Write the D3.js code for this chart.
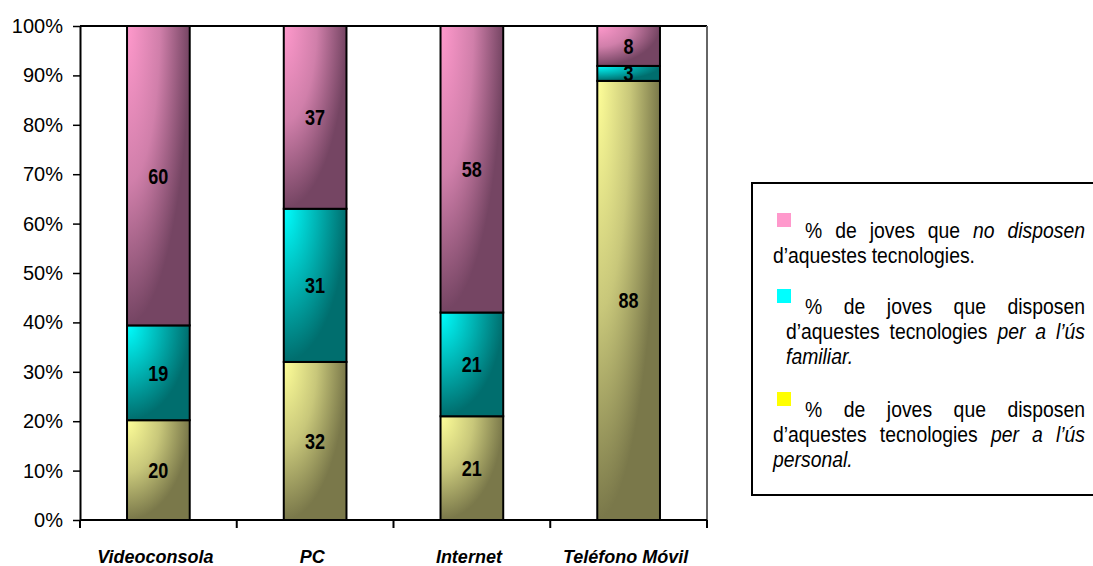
<!DOCTYPE html>
<html>
<head>
<meta charset="utf-8">
<script src="https://cdn.jsdelivr.net/npm/d3@7"></script>
<style>
  body { margin: 0; background: #fff; }
  svg { display: block; }
</style>
</head>
<body>
<script>
// data
var categories = ["Videoconsola", "PC", "Internet", "Teléfono Móvil"];
var personal = [20, 32, 21, 88];
var familiar = [19, 31, 21, 3];
var noDisposen = [60, 37, 58, 8];
var yTicks = [0, 0.1, 0.2, 0.3, 0.4, 0.5, 0.6, 0.7, 0.8, 0.9, 1];

var keys = ["personal", "familiar", "noDisposen"];
var lightColors = ["#FFFF99", "#00FFFF", "#FF99CC"];
var midColors = ["#C8C77A", "#00B4B4", "#D07FAA"];
var darkColors = ["#7A784A", "#006E6E", "#754563"];
var legendSquares = ["#FF99CC", "#00FFFF", "#FFFF00"];

var W = 1093, H = 566;
// no narrow font installed, so the regular one is squeezed
var font = "'Liberation Sans', Arial, sans-serif";
var squeeze = 0.82;

var svg = d3.select("body").append("svg")
  .attr("width", W)
  .attr("height", H);

var x = d3.scaleBand()
  .domain(categories)
  .range([80, 707])
  .paddingInner(0.6)
  .paddingOuter(0.3);

var y = d3.scaleLinear()
  .domain([0, 1])
  .range([520, 26]);

var table = categories.map(function (c, i) {
  return {cat: c, personal: personal[i], familiar: familiar[i], noDisposen: noDisposen[i]};
});

var series = d3.stack().keys(keys).offset(d3.stackOffsetExpand)(table);

// gradients, light in the top-left corner of every segment
var defs = svg.append("defs");
keys.forEach(function (k, i) {
  var grad = defs.append("radialGradient")
    .attr("id", "grad-" + k)
    .attr("cx", 0).attr("cy", 0).attr("fx", 0).attr("fy", 0).attr("r", 1.05);
  grad.append("stop").attr("offset", 0).attr("stop-color", lightColors[i]);
  grad.append("stop").attr("offset", 0.5).attr("stop-color", midColors[i]);
  grad.append("stop").attr("offset", 0.95).attr("stop-color", darkColors[i]);
});

// frame lines
svg.append("line")
  .attr("x1", 80).attr("x2", 707)
  .attr("y1", y(1)).attr("y2", y(1))
  .attr("stroke", "#000").attr("stroke-width", 2);
svg.append("line")
  .attr("x1", 707).attr("x2", 707)
  .attr("y1", y(1)).attr("y2", y(0))
  .attr("stroke", "#666").attr("stroke-width", 2);

// bars
var layer = svg.selectAll("g.layer")
  .data(series)
  .enter()
  .append("g")
  .attr("class", "layer");

layer.selectAll("rect")
  .data(function (s) { return s.map(function (d) { d.key = s.key; return d; }); })
  .enter()
  .append("rect")
  .attr("x", function (d) { return x(d.data.cat); })
  .attr("y", function (d) { return y(d[1]); })
  .attr("width", x.bandwidth())
  .attr("height", function (d) { return y(d[0]) - y(d[1]); })
  .attr("fill", function (d) { return "url(#grad-" + d.key + ")"; })
  .attr("stroke", "#000")
  .attr("stroke-width", 2);

layer.selectAll("text")
  .data(function (s) { return s; })
  .enter()
  .append("text")
  .attr("transform", function (d) {
    var cx = x(d.data.cat) + x.bandwidth() / 2;
    var cy = (y(d[0]) + y(d[1])) / 2;
    return "translate(" + cx + "," + cy + ") scale(" + squeeze + ",1)";
  })
  .attr("dy", "0.36em")
  .attr("text-anchor", "middle")
  .style("font-family", font)
  .style("font-weight", "bold")
  .style("font-size", "22px")
  .text(function (d) { return d.data[d.key]; });

// y axis
var yAxis = svg.append("g")
  .attr("transform", "translate(80,0)")
  .call(d3.axisLeft(y)
    .tickValues(yTicks)
    .tickFormat(d3.format(".0%"))
    .tickSize(7)
    .tickSizeOuter(0)
    .tickPadding(10));
yAxis.select(".domain").attr("stroke", "#000").attr("stroke-width", 2);
yAxis.selectAll(".tick line").attr("stroke", "#000").attr("stroke-width", 1.5);
yAxis.selectAll(".tick text")
  .style("font-family", font)
  .style("font-size", "20px")
  .attr("fill", "#000");

// x axis
var xAxis = svg.append("g")
  .attr("transform", "translate(0," + y(0) + ")")
  .call(d3.axisBottom(x).tickSize(0).tickPadding(30));
xAxis.select(".domain").remove();
xAxis.selectAll(".tick text")
  .attr("dx", -3)
  .style("font-family", font)
  .style("font-weight", "bold")
  .style("font-style", "italic")
  .style("font-size", "18px")
  .attr("fill", "#000");

svg.append("line")
  .attr("x1", 80).attr("x2", 707)
  .attr("y1", y(0)).attr("y2", y(0))
  .attr("stroke", "#000").attr("stroke-width", 2);

var bounds = d3.range(categories.length + 1).map(function (i) {
  return 80 + i * x.step();
});
svg.selectAll("line.xtick")
  .data(bounds)
  .enter()
  .append("line")
  .attr("class", "xtick")
  .attr("x1", function (d) { return d; })
  .attr("x2", function (d) { return d; })
  .attr("y1", y(0)).attr("y2", y(0) + 8)
  .attr("stroke", "#000").attr("stroke-width", 2);

// legend
var legend = svg.append("g");
legend.append("rect")
  .attr("x", 752).attr("y", 183)
  .attr("width", 360).attr("height", 312)
  .attr("fill", "#fff")
  .attr("stroke", "#000").attr("stroke-width", 2);

var legendText = [
  [[["% de joves que ", 0], ["no disposen", 1]], [["d’aquestes tecnologies.", 0]]],
  [[["% de joves que disposen", 0]], [["d’aquestes tecnologies ", 0], ["per a l’ús", 1]], [["familiar.", 1]]],
  [[["% de joves que disposen", 0]], [["d’aquestes tecnologies ", 0], ["per a l’ús", 1]], [["personal.", 1]]]
];
var legendTop = [213, 289, 392];
var lineX = [[805, 773], [805, 786, 786], [805, 773, 773]];
var lineJustify = [[true, false], [true, true, false], [true, true, false]];
var right = 1085;
var legendSqueeze = 0.88;

function drawLine(parts, x0, baseline, justify) {
  var words = [];
  parts.forEach(function (p) {
    p[0].split(" ").filter(function (w) { return w.length; }).forEach(function (w) {
      words.push({t: w, it: p[1]});
    });
  });
  var nodes = words.map(function (w) {
    return legend.append("text")
      .style("font-family", font)
      .style("font-size", "22px")
      .style("font-style", w.it ? "italic" : "normal")
      .text(w.t);
  });
  var widths = nodes.map(function (n) { return n.node().getComputedTextLength() * legendSqueeze; });
  var gap = 5;
  if (justify && words.length > 1) {
    gap = (right - x0 - d3.sum(widths)) / (words.length - 1);
  }
  var cx = x0;
  nodes.forEach(function (n, i) {
    n.attr("transform", "translate(" + cx + "," + baseline + ") scale(" + legendSqueeze + ",1)");
    cx += widths[i] + gap;
  });
}

legendText.forEach(function (item, i) {
  legend.append("rect")
    .attr("x", 777).attr("y", legendTop[i])
    .attr("width", 14).attr("height", 14)
    .attr("fill", legendSquares[i]);
  item.forEach(function (line, j) {
    drawLine(line, lineX[i][j], legendTop[i] + 25 + j * 25, lineJustify[i][j]);
  });
});
</script>
</body>
</html>
